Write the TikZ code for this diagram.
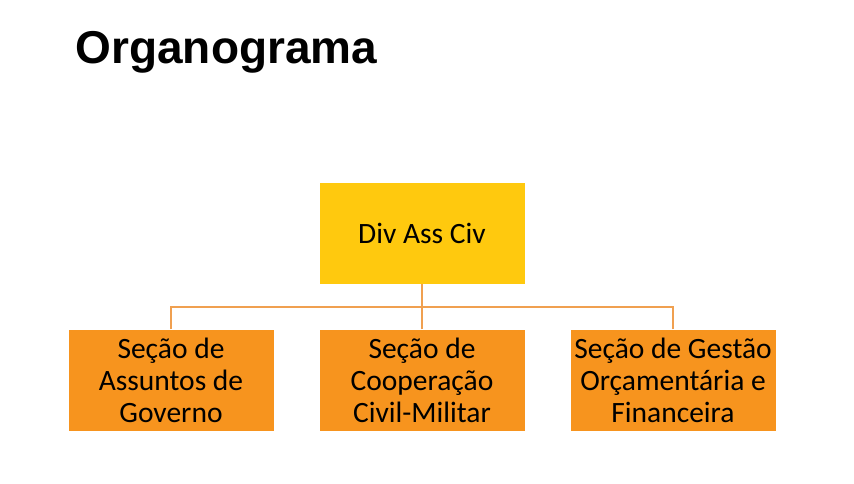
\documentclass[tikz,border=0pt]{standalone}
\usepackage{fontspec}
\setmainfont{Carlito}
\newfontfamily\titlefont{Liberation Sans}
\usetikzlibrary{calc}
\definecolor{divyellow}{HTML}{FFC90E}
\definecolor{secorange}{HTML}{F7941E}
\definecolor{linkorange}{HTML}{F0A050}

\begin{document}
\begin{tikzpicture}[x=1pt,y=-1pt,
		unit/.style={fill=#1, minimum width=205pt, minimum height=101pt, inner sep=0pt, align=center,
			font=\fontsize{29.5}{32}\selectfont},
		link/.style={draw=linkorange, line width=1.3pt}]
				\useasboundingbox (0,0) rectangle (854,483);
				
				\node[anchor=base west, font=\titlefont\bfseries\fontsize{46}{50}\selectfont] (title) at (72,63) {Organograma};
				
				\node[unit=divyellow] (div) at (422,233) {Div Ass Civ};
				\node[unit=secorange] (sag) at (171,380) {Seção de\\Assuntos de\\Governo};
				\node[unit=secorange] (scc) at (422,380) {Seção de\\Cooperação\\Civil-Militar};
				\node[unit=secorange] (sgo) at (673,380) {Seção de Gestão\\Orçamentária e\\Financeira};
				
				\coordinate (bus) at (422,307);
				\draw[link] (div.south) -- (bus);
				
				\foreach \x in {sag,scc,sgo}{
					\draw[link] (\x.north) -- (\x.north |- bus) -- (bus);}
			\end{tikzpicture}
\end{document}
